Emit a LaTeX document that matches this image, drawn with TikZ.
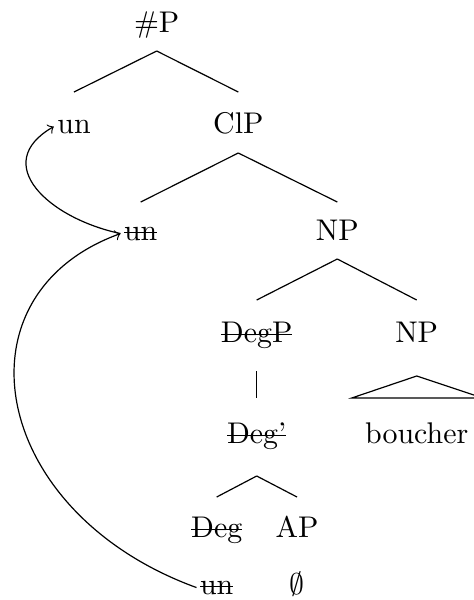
\documentclass[tikz,border=0pt]{standalone}
\usetikzlibrary{calc}

% durchgestrichenes Wort
\newcommand{\durch}[1]{\setbox0\hbox{#1}\rlap{\rule[0.55ex]{\wd0}{0.4pt}}\box0}

\tikzset{
    wort/.style = {anchor=base, inner sep=1pt},
}

\begin{document}
\begin{tikzpicture} [x = 0.3344pt, y = 0.3344pt]
            \useasboundingbox (0, 0) rectangle (474, -600);

            % Knoten
            \node [wort] (hashP)  at (156.7, -32)  {\#P};
            \node [wort] (un1)    at (74, -133)    {un};
            \node [wort] (ClP)    at (238.3, -133) {ClP};
            \node [wort] (un2)    at (140.7, -240) {\durch{un}};
            \node [wort] (NP1)    at (337.3, -240) {NP};
            \node [wort] (DegP)   at (256.7, -342) {\durch{DegP}};
            \node [wort] (NP2)    at (416.7, -342) {NP};
            \node [wort] (Degbar) at (256.7, -443) {\durch{Deg'}};
            \node [wort] (boucher) at (416.7, -443) {boucher};
            \node [wort] (Deg)    at (216.7, -537) {\durch{Deg}};
            \node [wort] (AP)     at (297, -537)   {AP};
            \node [wort] (un3)    at (216.7, -594) {\durch{un}};
            \node [wort] (leer)   at (297, -594)   {$\emptyset$};

            % Aeste
            \draw ($(hashP.base)+(0,-19)$) -- ($(un1.base)+(0,41)$);
            \draw ($(hashP.base)+(0,-19)$) -- ($(ClP.base)+(0,41)$);
            \draw ($(ClP.base)+(0,-20)$) -- ($(un2.base)+(0,38)$);
            \draw ($(ClP.base)+(0,-20)$) -- ($(NP1.base)+(0,38)$);
            \draw ($(NP1.base)+(0,-19)$) -- ($(DegP.base)+(0,42)$);
            \draw ($(NP1.base)+(0,-19)$) -- ($(NP2.base)+(0,42)$);
            \draw ($(DegP.base)+(0,-29)$) -- ($(Degbar.base)+(0,45)$);
            \draw ($(Degbar.base)+(0,-33)$) -- ($(Deg.base)+(0,40)$);
            \draw ($(Degbar.base)+(0,-33)$) -- ($(AP.base)+(0,40)$);

            % Dreieck
            \draw ($(NP2.base)+(0,-34)$) -- ($(boucher.base)+(-65,45)$)
                -- ($(boucher.base)+(66,45)$) -- cycle;

            % Bewegung
            \draw[->] (un2.west) to [out=168, in=210, looseness=1.5] (un1.west);
            \draw[->] (un3.west) .. controls +(160:220) and +(200:180) .. (un2.west);
        \end{tikzpicture}
\end{document}
